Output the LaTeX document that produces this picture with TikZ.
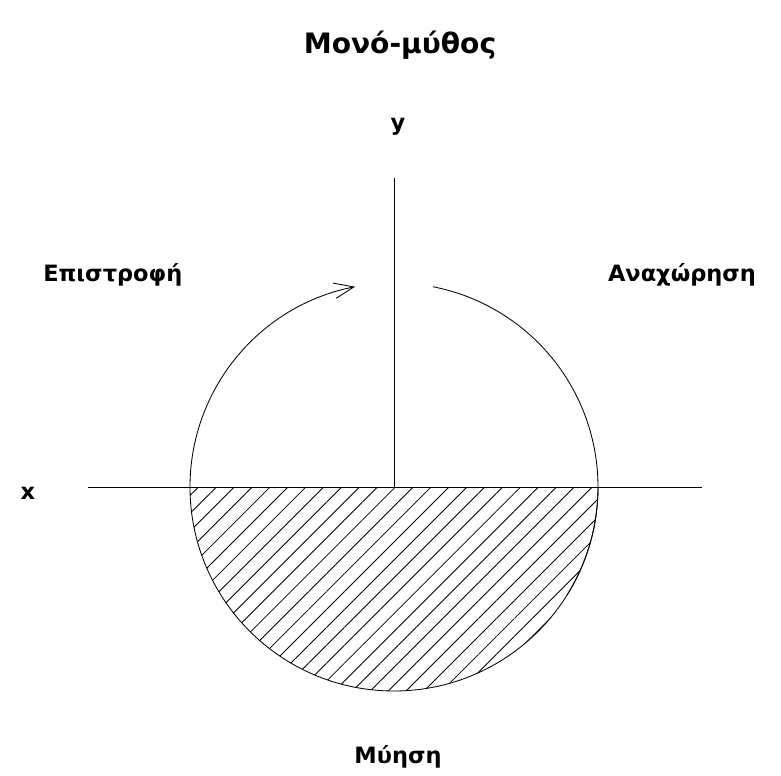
\documentclass[tikz,border=0pt]{standalone}
\usepackage{fontspec}
\setmainfont{DejaVu Sans}
\usetikzlibrary{patterns.meta,arrows.meta}
\begin{document}
\begin{tikzpicture}[line width=0.6pt,
    lbl/.style={font=\bfseries\fontsize{16}{19}\selectfont},
    ttl/.style={font=\bfseries\fontsize{20}{24}\selectfont}]
  \useasboundingbox (-9.85,-7.2) rectangle (9.675,12.175);
  % Axes
  \coordinate (o) at (0,0);
  \coordinate (xl) at (-7.65,0);
  \coordinate (xr) at (7.7,0);
  \coordinate (yt) at (0,7.725);
  % Lower half
  \fill[pattern={Lines[angle=45,distance=9pt,line width=0.6pt]}] (-5.1,0) arc (180:360:5.1) -- cycle;
  \draw (-5.1,0) arc (180:360:5.1);
  \draw (xl) -- (xr);
  \draw (o) -- (yt);
  % Departure and return
  \draw ([shift={(79:5.1)}]o) arc (79:-32:5.1);
  \draw[-{Straight Barb[length=14pt,width=11pt]}] ([shift={(180:5.1)}]o) arc (180:101:5.1);
  % Labels
  \node[ttl] (title) at (0.15,11.05) {Μονό-μύθος};
  \node[lbl] (ylab) at (0.1,9.0) {y};
  \node[lbl] (xlab) at (-9.15,-0.15) {x};
  \node[lbl] (ret) at (-7.03,5.3) {Επιστροφή};
  \node[lbl] (dep) at (7.2,5.3) {Αναχώρηση};
  \node[lbl] (init) at (0.1,-6.75) {Μύηση};
\end{tikzpicture}
\end{document}
